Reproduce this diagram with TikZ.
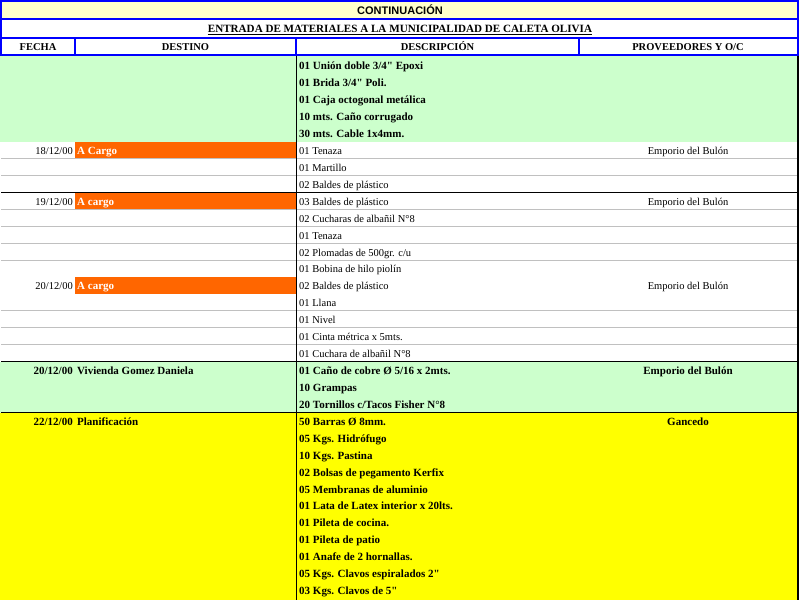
\documentclass[tikz,border=0pt]{standalone}
\usepackage{fontspec}
\setmainfont{Liberation Serif}
\newfontfamily\plainf{Liberation Serif}
\newfontfamily\arialf{Liberation Sans}
\newcommand\dq{{\plainf\char34}}
\definecolor{paleY}{HTML}{FFFFCC}
\definecolor{lgreen}{HTML}{CCFFCC}
\definecolor{yel}{HTML}{FFFF00}
\definecolor{orng}{HTML}{FF6600}
\definecolor{gridg}{HTML}{C0C0C0}
\definecolor{bblue}{HTML}{0000FF}
\tikzset{
  txt/.style={inner sep=0pt, font=\fontsize{10.5}{12}\selectfont},
  btxt/.style={inner sep=0pt, font=\fontsize{11}{12}\selectfont\bfseries},
  wtxt/.style={inner sep=0pt, text=white, font=\fontsize{11}{12}\selectfont\bfseries},
  hdr/.style={inner sep=0pt, anchor=base, font=\fontsize{10.5}{12}\selectfont\bfseries},
  blueline/.style={draw=bblue, line width=2pt},
  gridline/.style={draw=gridg, line width=1pt},
  blackline/.style={draw=black, line width=1.1pt},
}
\newcommand\RT[1]{57+(#1-1)*16.93+12.8}
\newcommand\Cell[6]{\node[#1,anchor=#2] (#3) at (#4,{\RT{#5}}) {#6};}
\newcommand\Bnd[1]{57+#1*16.93}
\begin{document}
\begin{tikzpicture}[x=1pt,y=-1pt]
\useasboundingbox (0,0) rectangle (800,600);
\fill[white] (0,0) rectangle (800,600);
% header fills
\fill[paleY] (1,1) rectangle (797.5,19);
% block fills
\fill[lgreen] (0,56) rectangle (797.5,{\Bnd{5}});
\fill[lgreen] (0,{\Bnd{18}}) rectangle (797.5,{\Bnd{21}});
\fill[yel] (0,{\Bnd{21}}) rectangle (797.5,600);
\fill[orng] (75,{\Bnd{5}}) rectangle (296.5,{\Bnd{6}});
\fill[orng] (75,{\Bnd{8}}) rectangle (296.5,{\Bnd{9}});
\fill[orng] (75,{\Bnd{13}}) rectangle (296.5,{\Bnd{14}});
% grid lines
\foreach \k in {6,7,9,10,11,12,15,16,17}
  \draw[gridline] (1,{\Bnd{\k}}) -- (797.5,{\Bnd{\k}});
\foreach \k in {8,18,21}
  \draw[blackline] (1,{\Bnd{\k}}) -- (798,{\Bnd{\k}});
\draw[blackline] (296.5,56) -- (296.5,600);
\draw[blackline] (798,56) -- (798,600);
% header borders
\draw[blueline] (1,1) rectangle (797.5,55.2);
\draw[blueline] (1,19) -- (797.5,19);
\draw[blueline] (1,37.5) -- (797.5,37.5);
\draw[blueline] (74.5,37.5) -- (74.5,55.2);
\draw[blueline] (296.3,37.5) -- (296.3,55.2);
\draw[blueline] (578.7,37.5) -- (578.7,55.2);
% header texts
\node[inner sep=0pt, anchor=base, font=\arialf\fontsize{11}{12}\selectfont\bfseries] (t1) at (400,14.3) {CONTINUACIÓN};
\node[hdr, font=\fontsize{11.1}{12}\selectfont\bfseries] (t2) at (400,32.3) {ENTRADA DE MATERIALES A LA MUNICIPALIDAD DE CALETA OLIVIA};
\draw[line width=1.2pt] ([yshift=-2.4pt]t2.base west) -- ([yshift=-2.4pt]t2.base east);
\node[hdr] (h1) at (38,50.8) {FECHA};
\node[hdr] (h2) at (185.5,50.8) {DESTINO};
\node[hdr] (h3) at (437.5,50.8) {DESCRIPCIÓN};
\node[hdr] (h4) at (688,50.8) {PROVEEDORES Y O/C};
% block 1 (green)
\Cell{btxt}{base west}{d1}{299}{1}{01 Unión doble 3/4\dq\ Epoxi}
\Cell{btxt}{base west}{d2}{299}{2}{01 Brida 3/4\dq\ Poli.}
\Cell{btxt}{base west}{d3}{299}{3}{01 Caja octogonal metálica}
\Cell{btxt}{base west}{d4}{299}{4}{10 mts. Caño corrugado}
\Cell{btxt}{base west}{d5}{299}{5}{30 mts. Cable 1x4mm.}
% 18/12/00
\Cell{txt}{base east}{f6}{73}{6}{18/12/00}
\Cell{wtxt}{base west}{g6}{77}{6}{A Cargo}
\Cell{txt}{base west}{d6}{299}{6}{01 Tenaza}
\Cell{txt}{base}{p6}{688}{6}{Emporio del Bulón}
\Cell{txt}{base west}{d7}{299}{7}{01 Martillo}
\Cell{txt}{base west}{d8}{299}{8}{02 Baldes de plástico}
% 19/12/00
\Cell{txt}{base east}{f9}{73}{9}{19/12/00}
\Cell{wtxt}{base west}{g9}{77}{9}{A cargo}
\Cell{txt}{base west}{d9}{299}{9}{03 Baldes de plástico}
\Cell{txt}{base}{p9}{688}{9}{Emporio del Bulón}
\Cell{txt}{base west}{d10}{299}{10}{02 Cucharas de albañil N°8}
\Cell{txt}{base west}{d11}{299}{11}{01 Tenaza}
\Cell{txt}{base west}{d12}{299}{12}{02 Plomadas de 500gr. c/u}
% 20/12/00
\Cell{txt}{base west}{d13}{299}{13}{01 Bobina de hilo piolín}
\Cell{txt}{base east}{f14}{73}{14}{20/12/00}
\Cell{wtxt}{base west}{g14}{77}{14}{A cargo}
\Cell{txt}{base west}{d14}{299}{14}{02 Baldes de plástico}
\Cell{txt}{base}{p14}{688}{14}{Emporio del Bulón}
\Cell{txt}{base west}{d15}{299}{15}{01 Llana}
\Cell{txt}{base west}{d16}{299}{16}{01 Nivel}
\Cell{txt}{base west}{d17}{299}{17}{01 Cinta métrica x 5mts.}
\Cell{txt}{base west}{d18}{299}{18}{01 Cuchara de albañil N°8}
% 20/12/00 Vivienda (green)
\Cell{btxt}{base east}{f19}{73}{19}{20/12/00}
\Cell{btxt}{base west}{g19}{77}{19}{Vivienda Gomez Daniela}
\Cell{btxt}{base west}{d19}{299}{19}{01 Caño de cobre Ø 5/16 x 2mts.}
\Cell{btxt}{base}{p19}{688}{19}{Emporio del Bulón}
\Cell{btxt}{base west}{d20}{299}{20}{10 Grampas}
\Cell{btxt}{base west}{d21}{299}{21}{20 Tornillos c/Tacos Fisher N°8}
% 22/12/00 Planificación (yellow)
\Cell{btxt}{base east}{f22}{73}{22}{22/12/00}
\Cell{btxt}{base west}{g22}{77}{22}{Planificación}
\Cell{btxt}{base west}{d22}{299}{22}{50 Barras Ø 8mm.}
\Cell{btxt}{base}{p22}{688}{22}{Gancedo}
\Cell{btxt}{base west}{d23}{299}{23}{05 Kgs. Hidrófugo}
\Cell{btxt}{base west}{d24}{299}{24}{10 Kgs. Pastina}
\Cell{btxt}{base west}{d25}{299}{25}{02 Bolsas de pegamento Kerfix}
\Cell{btxt}{base west}{d26}{299}{26}{05 Membranas de aluminio}
\Cell{btxt}{base west}{d27}{299}{27}{01 Lata de Latex interior x 20lts.}
\Cell{btxt}{base west}{d28}{299}{28}{01 Pileta de cocina.}
\Cell{btxt}{base west}{d29}{299}{29}{01 Pileta de patio}
\Cell{btxt}{base west}{d30}{299}{30}{01 Anafe de 2 hornallas.}
\Cell{btxt}{base west}{d31}{299}{31}{05 Kgs. Clavos espiralados 2\dq}
\Cell{btxt}{base west}{d32}{299}{32}{03 Kgs. Clavos de 5\dq}
\end{tikzpicture}
\end{document}
